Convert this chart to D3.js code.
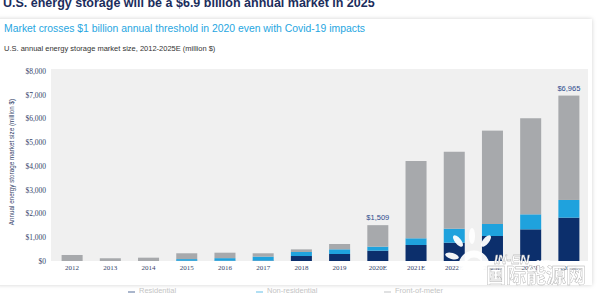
<!DOCTYPE html>
<html>
<head>
	<meta charset="utf-8">
	<title>U.S. energy storage market size</title>
	<style type="text/css">
		body{ margin:0; background:#fff; }
		svg{ display:block; font-family:"Liberation Sans", Arial, sans-serif; }
	</style>
</head>
<body>
	<svg width=600 height=293 class="chart"></svg>
	<script type="text/javascript" src="https://cdn.jsdelivr.net/npm/d3@7/dist/d3.min.js"></script>
	<script type="text/javascript">

		// values (million $)
		years = ['2012','2013','2014','2015','2016','2017','2018','2019','2020E','2021E','2022E','2023E','2024E','2025E']
		residential    = [0,   0,   0,   10,  10,  15,  210, 295, 434,  674,  770,  1053, 1333, 1825]
		nonResidential = [0,   0,   0,   70,  110, 170, 170, 198, 170,  282,  590,  505,  632,  745]
		frontOfMeter   = [253, 115, 140, 245, 230, 140, 110, 223, 905,  3254, 3240, 3932, 4045, 4395]
		seriesNames = ['Residential', 'Non-residential', 'Front-of-meter']
		seriesColors = ['#0c2f6c', '#1fa2dd', '#a7a9ac']
		totalLabels = {'2020E':'$1,509', '2025E':'$6,965'}
		yTicks = [0,1000,2000,3000,4000,5000,6000,7000,8000]

		svg = d3.select('.chart')

		rows = years.map(function(y, i){
			return {year:y, 'Residential':residential[i], 'Non-residential':nonResidential[i], 'Front-of-meter':frontOfMeter[i]}
		})

		x = d3.scaleBand().domain(years).range([53, 588]).paddingInner(0.45).paddingOuter(0.225)
		y = d3.scaleLinear().domain([0, 8000]).range([261, 71])

		// headline, cut at the top of the picture
		svg.append('text')
			.attr('x', 3).attr('y', 7)
			.attr('fill', '#1b2d5c').attr('font-weight', 'bold').attr('font-size', 12.5)
			.text('U.S. energy storage will be a $6.9 billion annual market in 2025')

		// card
		defs = svg.append('defs')
		f = defs.append('filter').attr('id', 'shadow').attr('x', -0.05).attr('y', -0.05).attr('width', 1.1).attr('height', 1.1)
		f.append('feDropShadow').attr('dx', 0).attr('dy', 0).attr('stdDeviation', 2).attr('flood-color', '#000').attr('flood-opacity', 0.18)

		svg.append('rect')
			.attr('x', -4).attr('y', 19).attr('width', 596).attr('height', 266)
			.attr('fill', '#fff').attr('filter', 'url(#shadow)')

		svg.append('text')
			.attr('x', 4).attr('y', 32)
			.attr('fill', '#27a6e1').attr('font-size', 10.4)
			.text('Market crosses $1 billion annual threshold in 2020 even with Covid-19 impacts')

		svg.append('text')
			.attr('x', 4).attr('y', 51)
			.attr('fill', '#333').attr('font-size', 7.5)
			.text('U.S. annual energy storage market size, 2012-2025E (million $)')

		// plot background
		svg.append('rect')
			.attr('x', 51).attr('y', 69).attr('width', 537).attr('height', 192)
			.attr('fill', '#f0f0f0')

		stack = d3.stack().keys(seriesNames)
		layers = stack(rows)

		svg.append('g')
			.selectAll('g')
			.data(layers)
			.enter()
			.append('g')
			.attr('fill', function(d, i) {return seriesColors[i]})
			.selectAll('rect')
			.data(function(d) {return d})
			.enter()
			.append('rect')
			.attr('x', function(d) {return x(d.data.year)})
			.attr('y', function(d) {return y(d[1])})
			.attr('width', x.bandwidth())
			.attr('height', function(d) {return y(d[0]) - y(d[1])})

		// totals above two bars
		svg.append('g')
			.selectAll('text')
			.data(rows.filter(function(d) {return totalLabels[d.year]}))
			.enter()
			.append('text')
			.attr('x', function(d) {return x(d.year) + x.bandwidth()/2})
			.attr('y', function(d) {return y(d['Residential'] + d['Non-residential'] + d['Front-of-meter']) - 5})
			.attr('text-anchor', 'middle')
			.attr('fill', '#2c4a8c').attr('font-size', 7.5)
			.text(function(d) {return totalLabels[d.year]})

		// axes
		yAxis = d3.axisLeft(y).tickValues(yTicks).tickSize(0).tickPadding(0)
			.tickFormat(function(d) {return '$' + d3.format(',')(d)})
		gy = svg.append('g').attr('transform', 'translate(46,0)').call(yAxis)
		gy.select('.domain').remove()
		gy.selectAll('text').attr('fill', '#34446a').attr('font-size', 7.5).attr('font-family', '"Liberation Serif", serif')

		xAxis = d3.axisBottom(x).tickSize(0).tickPadding(4)
		gx = svg.append('g').attr('transform', 'translate(0,261)').call(xAxis)
		gx.select('.domain').remove()
		gx.selectAll('text').attr('fill', '#34446a').attr('font-size', 7).attr('font-family', '"Liberation Serif", serif')

		svg.append('text')
			.attr('transform', 'translate(14,162) rotate(-90)')
			.attr('text-anchor', 'middle')
			.attr('fill', '#34446a').attr('font-size', 6.3)
			.text('Annual energy storage market size (million $)')

		// legend, mostly below the bottom edge
		lg = svg.append('g').selectAll('g').data(seriesNames).enter().append('g')
			.attr('transform', function(d, i) {return 'translate(' + (128 + i * 128) + ',286)'})
		lg.append('rect').attr('width', 7).attr('height', 5).attr('y', 5)
			.attr('fill', function(d, i) {return seriesColors[i]}).attr('opacity', 0.35)
		lg.append('text').attr('x', 11).attr('y', 7).attr('font-size', 7.5).attr('fill', '#c4c4c4')
			.text(function(d) {return d})

		// watermark
		wm = svg.append('g').attr('fill', '#fff').attr('opacity', 0.95)
		wm.append('circle').attr('cx', 474).attr('cy', 266).attr('r', 12)
			.attr('fill', 'none').attr('stroke', '#fff').attr('stroke-width', 7)
		wm.append('ellipse').attr('cx', 458).attr('cy', 241).attr('rx', 3).attr('ry', 7).attr('transform', 'rotate(-40,458,241)')
		wm.append('ellipse').attr('cx', 472).attr('cy', 236).attr('rx', 3).attr('ry', 8)
		wm.append('ellipse').attr('cx', 486).attr('cy', 241).attr('rx', 3).attr('ry', 7).attr('transform', 'rotate(40,486,241)')
		wm.append('ellipse').attr('cx', 452).attr('cy', 256).attr('rx', 3).attr('ry', 7).attr('transform', 'rotate(-75,452,256)')
		wm.append('text').attr('x', 494).attr('y', 264).attr('font-size', 13).attr('font-weight', 'bold').attr('font-style', 'italic')
			.attr('stroke', '#999').attr('stroke-width', 0.3).text('IN-EN')
		wm.append('text').attr('x', 534).attr('y', 264).attr('font-size', 7).attr('font-weight', 'bold')
			.text('.com')
		wm.append('text').attr('x', 486).attr('y', 283).attr('font-size', 20).attr('font-weight', 'bold')
			.attr('font-family', '"Noto Sans CJK SC", sans-serif')
			.attr('stroke', '#aaa').attr('stroke-width', 0.4).text('国际能源网')

	</script>
</body>
</html>
